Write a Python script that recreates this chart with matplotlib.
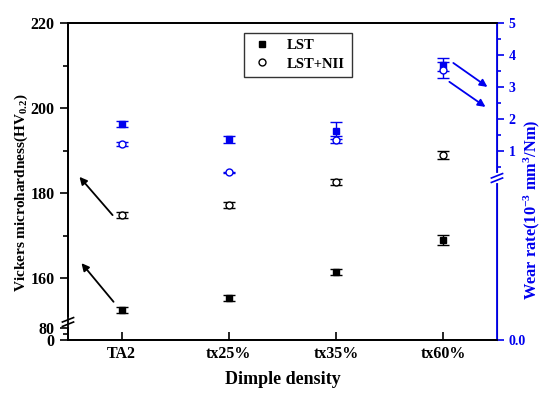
import numpy as np
import matplotlib
matplotlib.use("Agg")
import matplotlib.pyplot as plt
from matplotlib.lines import Line2D

plt.rcParams['font.family'] = 'Liberation Serif'
plt.rcParams['font.weight'] = 'bold'
plt.rcParams['mathtext.fontset'] = 'custom'
plt.rcParams['mathtext.rm'] = 'Liberation Serif:bold'
plt.rcParams['mathtext.it'] = 'Liberation Serif:bold'
plt.rcParams['mathtext.bf'] = 'Liberation Serif:bold'

# data
categories = ['TA2', 'tx25%', 'tx35%', 'tx60%']
hv_lst = [152.5, 155.3, 161.4, 168.9]
hv_lst_err = [0.7, 0.6, 0.7, 1.2]
hv_nii = [174.8, 177.2, 182.6, 188.9]
hv_nii_err = [0.7, 0.8, 0.6, 1.0]
wear_lst = [1.84, 1.36, 1.63, 3.69]
wear_lst_err = [0.09, 0.10, 0.27, 0.20]
wear_nii = [1.22, 0.33, 1.35, 3.53]
wear_nii_err = [0.07, 0.02, 0.12, 0.25]

# broken axis mappings (value -> screen units)
hv_v = [0, 80, 150, 220]
hv_p = [0, 12, 19.5, 317]
wr_v = [0, 0.15, 5]
wr_p = [0, 162, 317]

def hv_fwd(v):
    return np.interp(v, hv_v, hv_p)

def hv_inv(p):
    return np.interp(p, hv_p, hv_v)

def wr_fwd(v):
    return np.interp(v, wr_v, wr_p)

def wr_inv(p):
    return np.interp(p, wr_p, wr_v)

x = np.arange(len(categories))
blue = '#0000ee'

fig = plt.figure(figsize=(5.5, 3.98), dpi=100)
ax = fig.add_axes([0.1236, 0.1457, 0.78, 0.7965])
ax2 = ax.twinx()

ax.set_yscale('function', functions=(hv_fwd, hv_inv))
ax2.set_yscale('function', functions=(wr_fwd, wr_inv))

# hardness
ax.errorbar(x, hv_lst, yerr=hv_lst_err, fmt='s', color='black', ms=5,
            capsize=4.5, elinewidth=1, capthick=1)
ax.errorbar(x, hv_nii, yerr=hv_nii_err, fmt='o', color='black', mfc='white',
            ms=5, capsize=4.5, elinewidth=1, capthick=1)

# wear rate
ax2.errorbar(x, wear_lst, yerr=wear_lst_err, fmt='s', color=blue, ms=5,
             capsize=4.5, elinewidth=1, capthick=1)
ax2.errorbar(x, wear_nii, yerr=wear_nii_err, fmt='o', color=blue, mfc='white',
             ms=5, capsize=4.5, elinewidth=1, capthick=1)

ax.set_xlim(-0.5, 3.5)
ax.set_ylim(0, 220)
ax2.set_ylim(0, 5)

ax.set_xticks(x)
ax.set_xticklabels(categories)
ax.set_yticks([0, 80, 160, 180, 200, 220])
ax.set_yticks([40, 170, 190, 210], minor=True)
ax2.set_yticks([0, 1, 2, 3, 4, 5])
ax2.set_yticklabels(['0.0', '1', '2', '3', '4', '5'])
ax2.set_yticks([0.5, 1.5, 2.5, 3.5, 4.5], minor=True)

ax.tick_params(axis='x', direction='in', length=6, width=1.2, labelsize=11.5, pad=4)
ax.tick_params(axis='y', which='major', direction='out', length=6, width=1.2, labelsize=11.5)
ax.tick_params(axis='y', which='minor', direction='out', length=3.5, width=1.2)
ax2.tick_params(axis='y', which='major', direction='out', length=5, width=1.2,
                labelsize=10, colors=blue)
ax2.tick_params(axis='y', which='minor', direction='out', length=3, width=1.2, colors=blue)
ax.xaxis.set_ticks_position('bottom')

for s in ['top', 'bottom', 'left']:
    ax.spines[s].set_linewidth(1.3)
for s in ax2.spines.values():
    s.set_linewidth(1.3)
ax2.spines['right'].set_color(blue)

ax.set_xlabel('Dimple density', fontsize=13, fontweight='bold', labelpad=7)
ax.set_ylabel('Vickers microhardness(HV$_{0.2}$)', fontsize=11, fontweight='bold')
ax2.set_ylabel('Wear rate(10$^{-3}$ mm$^3$/Nm)', fontsize=11.8, fontweight='bold',
               color=blue)
ax.yaxis.set_label_coords(-0.088, 0.464)
ax2.yaxis.set_label_coords(1.056, 0.41)

# break marks on the y spines
yb1 = 18 / 317
yb2 = 162 / 317
for ax_, xb, yb, col in [(ax, 0.0, yb1, 'black'), (ax2, 1.0, yb2, blue)]:
    ax_.plot([xb, xb], [yb - 0.008, yb + 0.008], color='white', lw=3,
             transform=ax_.transAxes, clip_on=False, zorder=5)
    for dy in (-0.007, 0.007):
        ax_.plot([xb - 0.013, xb + 0.013], [yb + dy - 0.007, yb + dy + 0.007],
                 color=col, lw=1.2, transform=ax_.transAxes, clip_on=False, zorder=6)

# arrows
arw = dict(arrowstyle='-|>', lw=1.3, mutation_scale=11, shrinkA=0, shrinkB=0)
ax.annotate('', xy=(-0.393, 183.8), xytext=(-0.084, 174.8),
            arrowprops=dict(arw, color='black'))
ax.annotate('', xy=(-0.374, 163.5), xytext=(-0.075, 154.4),
            arrowprops=dict(arw, color='black'))
ax2.annotate('', xy=(3.411, 3.0), xytext=(3.093, 3.75),
             arrowprops=dict(arw, color=blue))
ax2.annotate('', xy=(3.393, 2.375), xytext=(3.056, 3.16),
             arrowprops=dict(arw, color=blue))

handles = [Line2D([], [], ls='none', marker='s', ms=5, color='black'),
           Line2D([], [], ls='none', marker='o', ms=5, color='black', mfc='white')]
leg = ax.legend(handles, ['LST', 'LST+NII'], loc='upper center',
                bbox_to_anchor=(0.536, 0.97), fontsize=10.5,
                frameon=True, fancybox=False, edgecolor='black', handletextpad=0.9,
                borderpad=0.45, handlelength=1.6, labelspacing=0.35, borderaxespad=0)
leg.get_frame().set_linewidth(1.0)

fig.savefig('out.png', dpi=100)
